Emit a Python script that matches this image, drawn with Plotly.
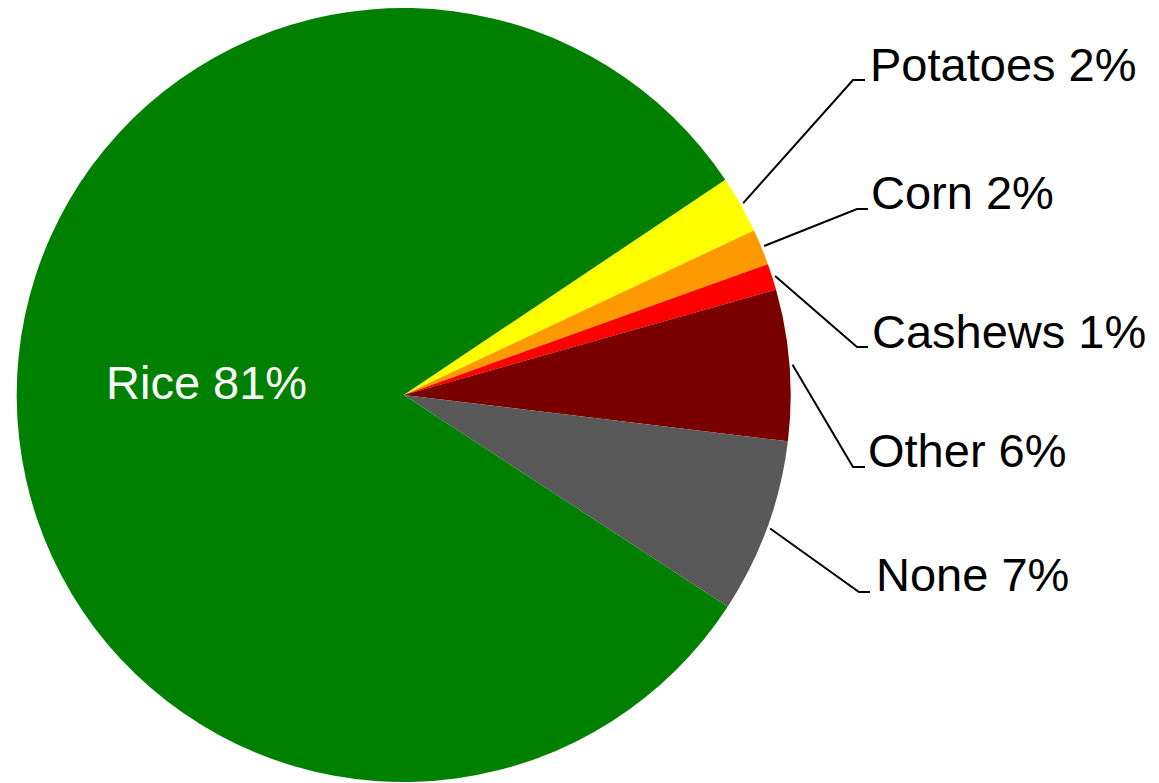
import math
import plotly.graph_objects as go

# ---- data ----
categories = ["Potatoes", "Corn", "Cashews", "Other", "None", "Rice"]
values = [2.4, 1.5, 1.1, 6.3, 7.3, 81.4]
colors = ["#FFFF00", "#FF9900", "#FF0000", "#7A0000", "#595959", "#008000"]

# ---- layout constants (pixels in the screenshot) ----
W, H = 1159, 783
OFF = 8  # page body margin of the browser
CX, CY, R = 403.7, 395.0, 387.0
ROTATION = 56.2  # degrees clockwise from 12 o'clock where first slice starts
label_cy = [65, 192, 331, 451, 574]        # vertical centre of outside labels
elbow_y = [80, 209, 347, 467, 592]
elbow_x = [853, 857, 857, 853, 859]
hline_end = [865, 868, 868, 865, 870]
text_x = [868, 869, 870, 866, 874]
FONT = "Arial, Liberation Sans, sans-serif"
FS = 47

total = sum(values)
texts = [f"{c} {int(v / total * 100 + 0.5)}%" for c, v in zip(categories, values)]


def px(x, y):
    return (x - OFF) / W, 1 - (y - OFF) / H


d0 = px(CX - R, CY + R)
d1 = px(CX + R, CY - R)

fig = go.Figure()
fig.add_trace(go.Pie(
    labels=categories, values=values, sort=False, direction="clockwise",
    rotation=ROTATION, marker=dict(colors=colors, line=dict(width=0)),
    textinfo="none", hoverinfo="label+percent", showlegend=False,
    domain=dict(x=[d0[0], d1[0]], y=[d0[1], min(1, d1[1])]),
))

shapes = []
annotations = []
ang = 90 - ROTATION
for i, (c, v) in enumerate(zip(categories, values)):
    span = v / total * 360
    mid = ang - span / 2
    ang -= span
    if c == "Rice":
        rr = 0.51 * R
        x = CX + rr * math.cos(math.radians(mid))
        y = CY - rr * math.sin(math.radians(mid)) - 14
        ax, ay = px(x, y)
        annotations.append(dict(x=ax, y=ay, xref="paper", yref="paper", text=texts[i],
                                showarrow=False, xanchor="center", yanchor="middle",
                                font=dict(family=FONT, size=FS, color="white")))
        continue
    sx = CX + (R + 3) * math.cos(math.radians(mid))
    sy = CY - (R + 3) * math.sin(math.radians(mid))
    p0 = px(sx, sy)
    p1 = px(elbow_x[i], elbow_y[i])
    p2 = px(hline_end[i], elbow_y[i])
    shapes.append(dict(type="path", xref="paper", yref="paper",
                       path=f"M {p0[0]},{p0[1]} L {p1[0]},{p1[1]} L {p2[0]},{p2[1]}",
                       line=dict(color="black", width=2)))
    tx, ty = px(text_x[i], label_cy[i])
    annotations.append(dict(x=tx, y=ty, xref="paper", yref="paper", text=texts[i],
                            showarrow=False, xanchor="left", yanchor="middle",
                            font=dict(family=FONT, size=FS, color="black")))

fig.update_layout(width=W, height=H, margin=dict(l=0, r=0, t=0, b=0),
                  paper_bgcolor="white", plot_bgcolor="white",
                  shapes=shapes, annotations=annotations)
fig.write_html("out.html")
